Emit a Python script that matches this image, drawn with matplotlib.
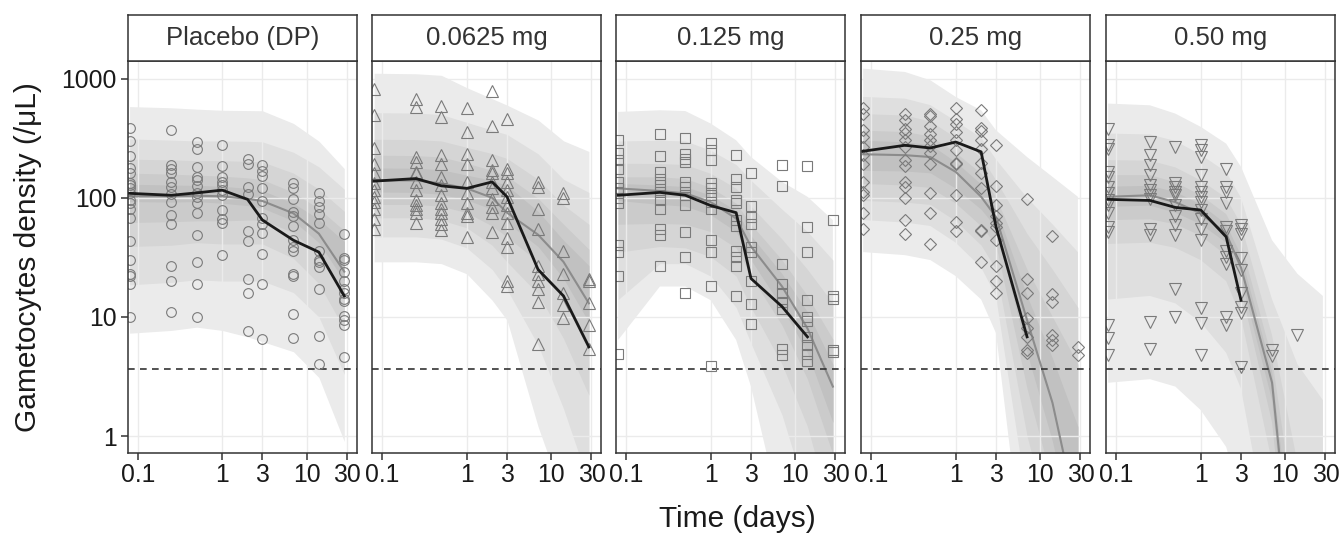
import matplotlib
matplotlib.use("Agg")
import matplotlib.pyplot as plt

plt.rcParams['font.family'] = ['Liberation Sans', 'DejaVu Sans']

# nominal sampling times (days)
times = [0.08, 0.25, 0.5, 1, 2, 3, 7, 14, 28]

panel_titles = ["Placebo (DP)", "0.0625 mg", "0.125 mg", "0.25 mg", "0.50 mg"]
panel_markers = ["o", "^", "s", "D", "v"]
lloq = 3.65

# ---- Placebo (DP) ----
pl_obs = [
    [386, 298, 225, 178, 160, 133, 129, 121, 109, 95, 90, 81, 68, 43, 30, 23, 22, 19, 10],
    [374, 188, 174, 160, 136, 123, 107, 92, 72, 60, 27, 20, 11],
    [294, 256, 182, 150, 141, 126, 109, 102, 90, 75, 49, 29, 19, 10],
    [276, 185, 150, 136, 128, 116, 105, 79, 67, 62, 33],
    [211, 194, 123, 107, 53, 43, 21, 16, 7.6],
    [188, 167, 152, 122, 94, 68, 60, 51, 34, 19, 6.5],
    [133, 120, 97, 76, 70, 58, 44, 39, 36, 23, 22, 10.5, 6.6],
    [110, 94, 83, 73, 62, 36, 30, 29, 26, 17, 6.9, 4.0],
    [50, 31, 30, 24, 20, 17, 16, 14, 13.6, 10.2, 9.5, 8.5, 4.6],
]
pl_obs_med = [109, 105, 110, 116, 97, 65, 44, 35, 15]
pl_pred_med = [103, 103, 104, 103, 98, 94, 74, 50, 24]
pl_hi = [
    [583, 570, 555, 543, 540, 538, 421, 299, 176],
    [312, 305, 300, 300, 298, 295, 241, 182, 118],
    [211, 208, 205, 205, 202, 200, 161, 118, 77],
    [161, 158, 155, 152, 147, 142, 111, 81, 53],
    [130, 128, 127, 125, 120, 115, 90, 66, 43],
]
pl_lo = [
    [7.3, 7.7, 8.2, 7.7, 6.8, 6.2, 5.1, 3.1, 0.9],
    [18.6, 19.5, 20.5, 20, 20, 20, 16, 10, 3.3],
    [39, 40, 42, 41, 41, 41, 31, 19, 7.9],
    [62, 63, 64, 64, 65, 65, 51, 33, 15],
    [93, 92, 93, 90, 86, 82, 64, 42, 20],
]

# ---- 0.0625 mg ----
d1_obs = [
    [826, 493, 262, 191, 160, 133, 116, 102, 92, 81, 67, 55],
    [680, 579, 220, 200, 165, 160, 136, 116, 95, 87, 80, 74, 62],
    [587, 478, 228, 194, 150, 128, 105, 90, 81, 74, 66, 60, 54],
    [572, 357, 232, 194, 136, 110, 90, 74, 70, 47],
    [789, 399, 207, 171, 160, 136, 120, 97, 84, 74, 52],
    [462, 176, 160, 136, 116, 102, 87, 74, 62, 46, 39, 20, 18],
    [136, 124, 81, 55, 27, 23, 20, 17, 13.4, 5.9],
    [110, 99, 36, 23, 16, 12.6, 9.7],
    [21, 20, 13, 8.5, 5.4],
]
d1_obs_med = [138, 145, 126, 120, 136, 102, 25, 15, 5.6]
d1_pred_med = [140, 140, 132, 120, 100, 75, 49, 29, 13]
d1_hi = [
    [1111, 1100, 1067, 841, 680, 600, 450, 301, 245],
    [518, 515, 500, 430, 370, 340, 234, 143, 111],
    [310, 308, 300, 265, 235, 214, 143, 87, 60],
    [228, 226, 220, 195, 170, 152, 99, 60, 37],
    [178, 177, 172, 155, 140, 127, 77, 44, 27],
]
d1_lo = [
    [29, 29, 28, 23, 13.8, 9.4, 1.2, 0.3, 0.1],
    [47, 47, 45, 38, 25, 17, 5.8, 1.7, 0.4],
    [68, 68, 65, 56, 40, 29, 15.6, 6.6, 2.2],
    [88, 88, 85, 75, 58, 47, 29, 14, 5.1],
    [112, 111, 107, 96, 80, 62, 39, 21, 9],
]

# ---- 0.125 mg ----
d2_obs = [
    [308, 238, 207, 176, 136, 120, 110, 99, 90, 40, 35, 22, 4.9],
    [340, 223, 165, 145, 128, 112, 95, 81, 55, 49, 27],
    [318, 235, 213, 200, 136, 124, 105, 87, 52, 32, 16],
    [289, 251, 209, 133, 120, 105, 92, 80, 44, 35, 18, 3.9],
    [228, 145, 124, 95, 90, 65, 58, 36, 32, 27, 15],
    [160, 85, 69, 60, 39, 35, 20, 12.8, 8.8],
    [188, 125, 28, 19, 16, 13.4, 11.6, 5.4, 4.8],
    [184, 57, 35, 13.8, 10, 9.3, 6.8, 5.8, 4.9, 4.3],
    [65, 15, 14, 5.3, 5.1],
]
d2_obs_med = [105, 111, 105, 86, 75, 21, 12.2, 6.8]
d2_pred_med = [120, 114, 109, 92, 67, 39, 18, 8, 2.6]
d2_hi = [
    [526, 543, 535, 420, 304, 220, 136, 102, 65],
    [300, 304, 300, 250, 190, 140, 80, 52, 30],
    [195, 194, 190, 160, 120, 85, 45, 25, 13],
    [150, 150, 145, 122, 90, 60, 30, 15, 6.5],
    [132, 128, 124, 105, 78, 48, 23, 11, 4],
]
d2_lo = [
    [6.4, 18, 18, 13.8, 6.4, 2.6, 0.2, 0.05, 0.01],
    [14, 28, 28, 22, 12, 6, 1.5, 0.3, 0.05],
    [35, 39, 38, 32, 22, 12, 4, 1.2, 0.2],
    [60, 61, 60, 52, 38, 22, 8.5, 3, 0.7],
    [95, 88, 85, 72, 52, 30, 12, 5, 1.3],
]

# ---- 0.25 mg ----
d3_obs = [
    [572, 509, 374, 324, 267, 228, 194, 136, 112, 105, 74, 55],
    [509, 448, 381, 351, 308, 267, 209, 184, 136, 124, 99, 65, 50],
    [509, 484, 399, 346, 304, 271, 238, 191, 109, 75, 41],
    [572, 462, 420, 357, 304, 251, 196, 191, 105, 63, 53],
    [550, 388, 362, 304, 259, 196, 160, 120, 54, 53, 29],
    [276, 125, 87, 71, 61, 57, 44, 27, 20, 16],
    [97, 21, 16, 9.7, 8.0, 6.8, 5.3, 5.0],
    [48, 15.5, 13.4, 7.0, 6.4, 5.8],
    [5.6, 4.8],
]
d3_obs_med = [246, 276, 262, 294, 243, 57, 6.8]
d3_pred_med = [232, 228, 220, 165, 102, 69, 9.4, 1.9, 0.2]
d3_hi = [
    [1214, 1139, 970, 703, 543, 369, 220, 150, 102],
    [703, 680, 600, 440, 320, 210, 100, 60, 35],
    [509, 495, 440, 320, 220, 140, 50, 25, 12],
    [369, 360, 330, 240, 160, 100, 25, 10, 4],
    [304, 295, 280, 200, 130, 82, 15, 4.5, 1.2],
]
d3_lo = [
    [35, 33, 30, 22, 14, 7.3, 0.05, 0.01, 0.005],
    [65, 62, 58, 42, 26, 15, 0.3, 0.05, 0.01],
    [95, 92, 88, 64, 40, 25, 1.0, 0.15, 0.03],
    [132, 128, 122, 90, 58, 40, 2.5, 0.4, 0.06],
    [170, 168, 162, 120, 80, 56, 5, 0.9, 0.1],
]

# ---- 0.50 mg ----
d4_obs = [
    [381, 276, 259, 165, 150, 124, 110, 95, 87, 74, 57, 52, 8.5, 6.6, 4.8],
    [294, 228, 188, 155, 128, 116, 105, 97, 55, 49, 9.1, 5.4],
    [267, 132, 124, 112, 105, 87, 71, 59, 49, 17, 10],
    [276, 251, 220, 155, 124, 112, 102, 92, 79, 67, 55, 44, 11.8, 8.9, 4.8],
    [173, 124, 112, 91, 57, 53, 36, 32, 28, 10, 8.5],
    [59, 55, 50, 31, 25, 16, 12.2, 10.7, 3.8],
    [5.3, 4.7],
    [7.0],
    [],
]
d4_obs_med = [97, 95, 83, 79, 47, 13.8]
d4_pred_med = [102, 105, 92, 74, 50, 26, 2.8, 0.022, 0.0005]
d4_hi = [
    [618, 598, 509, 394, 285, 182, 44, 23, 15],
    [346, 340, 300, 230, 165, 100, 14, 4, 2],
    [207, 205, 180, 140, 100, 60, 7, 0.6, 0.2],
    [155, 155, 135, 105, 73, 42, 4.5, 0.15, 0.02],
    [124, 126, 112, 88, 60, 33, 3.5, 0.05, 0.005],
]
d4_lo = [
    [2.8, 3.0, 2.6, 1.65, 0.81, 0.3, 0.01, 0.001, 0.0001],
    [14, 15, 13, 9, 5, 2.5, 0.1, 0.005, 0.0002],
    [41, 42, 38, 30, 20, 10, 0.6, 0.008, 0.0003],
    [65, 66, 60, 48, 33, 17, 1.3, 0.012, 0.0004],
    [84, 86, 75, 60, 42, 21, 2.0, 0.016, 0.00045],
]

panel_data = [
    (pl_obs, pl_obs_med, pl_pred_med, pl_hi, pl_lo),
    (d1_obs, d1_obs_med, d1_pred_med, d1_hi, d1_lo),
    (d2_obs, d2_obs_med, d2_pred_med, d2_hi, d2_lo),
    (d3_obs, d3_obs_med, d3_pred_med, d3_hi, d3_lo),
    (d4_obs, d4_obs_med, d4_pred_med, d4_hi, d4_lo),
]

band_colors = ['#ebebeb', '#dfdfdf', '#d5d5d5', '#cbcbcb', '#c1c1c1']
marker_sizes = {"o": 7.0, "^": 8.6, "s": 7.0, "D": 6.4, "v": 8.6}

# ---- layout (pixels of a 1339 x 545 figure) ----
W, H = 1339, 545
lefts = [127.7, 372.3, 616.3, 861.3, 1106.3]
pw = 229.0
ax_top, ax_bot, strip_top = 60.7, 453.0, 14.7

fig = plt.figure(figsize=(W / 100, H / 100), dpi=100)

for i, (title, mk) in enumerate(zip(panel_titles, panel_markers)):
    obs, obs_med, pred_med, hi, lo = panel_data[i]
    ax = fig.add_axes([lefts[i] / W, 1 - ax_bot / H, pw / W, (ax_bot - ax_top) / H])
    ax.set_xscale('log')
    ax.set_yscale('log')

    for k in range(5):
        ax.fill_between(times, lo[k], hi[k], color=band_colors[k], lw=0, zorder=1)

    ax.plot(times, pred_med, color='#8c8c8c', lw=1.5, zorder=2.2)
    ax.axhline(lloq, color='#333333', lw=1.2, ls=(0, (4, 3.2)), zorder=2.3)

    for t, vals in zip(times, obs):
        if vals:
            ax.plot([t] * len(vals), vals, ls='none', marker=mk, ms=marker_sizes[mk],
                    mfc='none', mec='#7a7a7a', mew=0.8, zorder=2.5)

    ax.plot(times[:len(obs_med)], obs_med, color='#1a1a1a', lw=2.0, zorder=3)

    ax.set_xlim(0.076, 39.3)
    ax.set_ylim(0.72, 1416)
    ax.set_xticks([0.1, 1, 3, 10, 30])
    ax.set_xticklabels(['0.1', '1', '3', '10', '30'])
    ax.set_yticks([1, 10, 100, 1000])
    ax.minorticks_off()
    ax.grid(True, color='#ebebeb', lw=1.0)
    ax.tick_params(axis='x', length=5, width=1.1, color='#333333', labelsize=17.8,
                   labelcolor='#1a1a1a', pad=2.5)
    if i == 0:
        ax.set_yticklabels(['1', '10', '100', '1000'])
        ax.tick_params(axis='y', length=5, width=1.1, color='#333333', labelsize=17.8,
                       labelcolor='#1a1a1a', pad=3)
    else:
        ax.tick_params(axis='y', length=0, labelleft=False)
    for sp in ax.spines.values():
        sp.set_color('#333333')
        sp.set_linewidth(1.1)

    sax = fig.add_axes([lefts[i] / W, 1 - ax_top / H, pw / W, (ax_top - strip_top) / H])
    sax.set_xticks([])
    sax.set_yticks([])
    sax.set_facecolor('white')
    for sp in sax.spines.values():
        sp.set_color('#333333')
        sp.set_linewidth(1.1)
    sax.text(0.5, 0.5, title, ha='center', va='center', fontsize=18.5,
             color='#333333', transform=sax.transAxes)

fig.text(28 / W, 1 - (ax_top + ax_bot) / 2 / H, 'Gametocytes density (/\u03bcL)',
         rotation=90, ha='center', va='center', fontsize=21.5, color='#1a1a1a')
fig.text(737 / W, 1 - 519 / H, 'Time (days)', ha='center', va='center',
         fontsize=21.5, color='#1a1a1a')

fig.savefig('out.png', dpi=100)
